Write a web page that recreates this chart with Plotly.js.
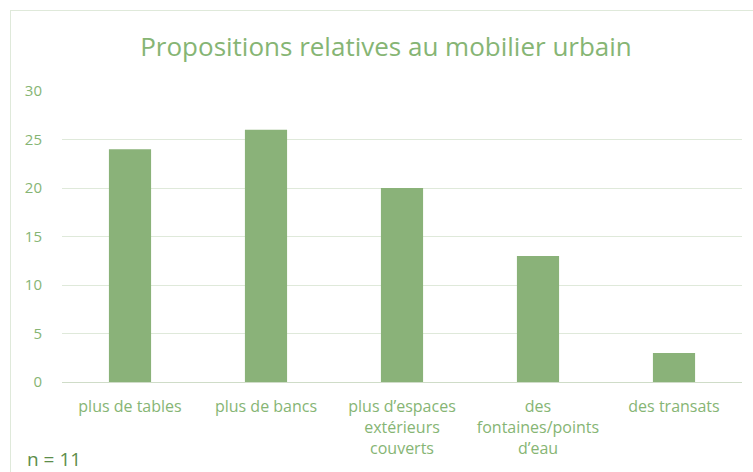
<!DOCTYPE html>
<html><head><meta charset="utf-8">
<script src="https://cdn.plot.ly/plotly-3.0.1.min.js"></script>
<style>
body{margin:0;padding:0;background:#fff;}
#frame{position:absolute;left:10px;top:10px;width:760px;height:480px;border:1px solid #dfe9da;}
#chart{position:absolute;left:0;top:0;width:753px;height:472px;}
</style></head>
<body>
<div id="frame"></div>
<div id="chart"></div>
<script>
var categories = ["plus de tables", "plus de bancs", "plus d’espaces<br>extérieurs<br>couverts", "des<br>fontaines/points<br>d’eau", "des transats"];
var values = [24, 26, 20, 13, 3];
var yTicks = [0, 5, 10, 15, 20, 25, 30];

var font = "Open Sans, sans-serif";
var trace = {
  type: "bar", x: categories, y: values,
  marker: {color: "#8ab279"}, hoverinfo: "none"
};
var layout = {
  width: 753, height: 472,
  margin: {l: 62, r: 11, t: 91, b: 90},
  paper_bgcolor: "rgba(0,0,0,0)", plot_bgcolor: "rgba(0,0,0,0)",
  bargap: 0.69,
  showlegend: false,
  title: {text: "Propositions relatives au mobilier urbain", x: 386/753, xanchor: "center", y: 1 - 47/472, yanchor: "middle",
    font: {family: font, size: 26, color: "#86b574"}},
  xaxis: {tickfont: {family: font, size: 16, color: "#86b574"}, showgrid: false, zeroline: false,
    showline: false, ticks: "outside", ticklen: 10, tickcolor: "rgba(0,0,0,0)", automargin: false},
  yaxis: {range: [0, 30], tickvals: yTicks, ticktext: yTicks.map(String),
    tickfont: {family: font, size: 15, color: "#86b574"}, gridcolor: "#dfe9da", gridwidth: 1,
    zeroline: true, zerolinecolor: "#cfdcc8", zerolinewidth: 1, showline: false, ticks: "outside",
    ticklen: 16, tickcolor: "rgba(0,0,0,0)", automargin: false},
  annotations: [{text: "n = 11", xref: "paper", yref: "paper", x: -62/680 + 25/680, y: -90/291 - 2/291,
    xanchor: "left", yanchor: "bottom", showarrow: false,
    font: {family: font, size: 19, color: "#5d8d4a"}}]
};
Plotly.newPlot("chart", [trace], layout, {staticPlot: true});
</script>
</body></html>
